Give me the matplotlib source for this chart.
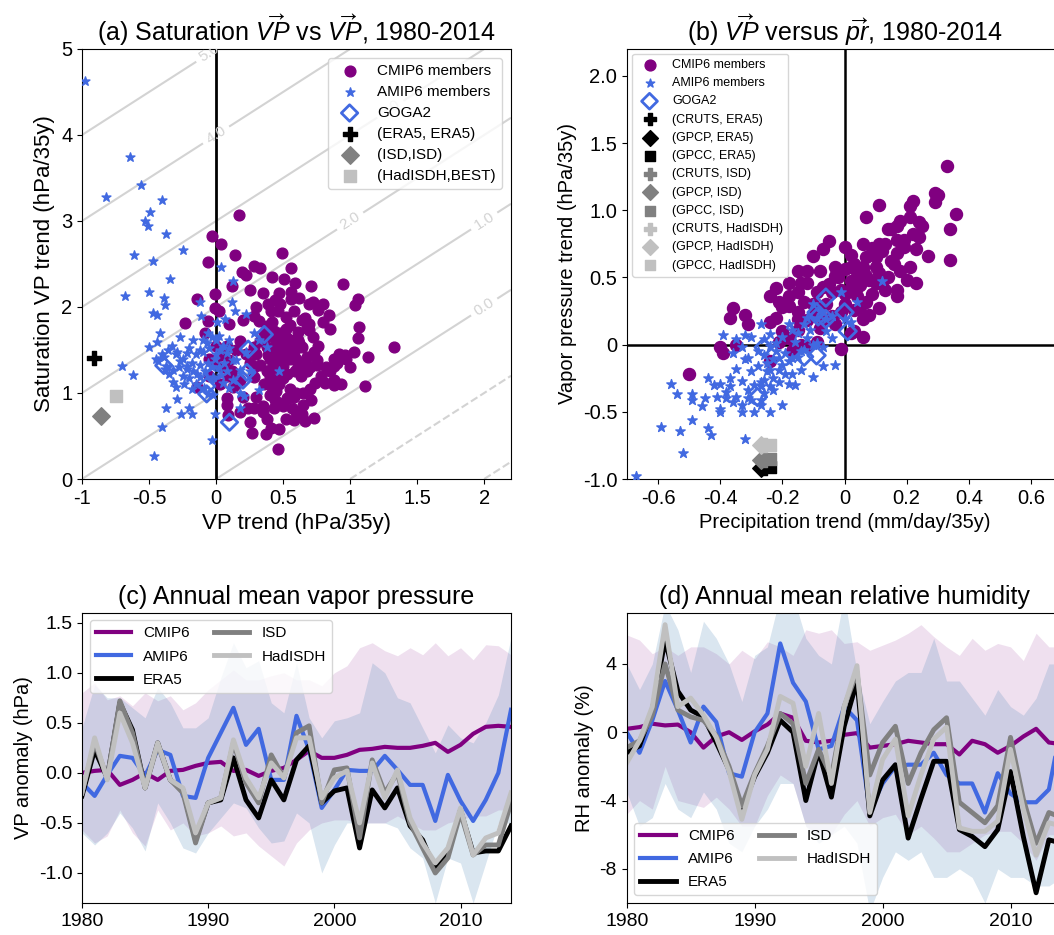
import numpy as np
import matplotlib
matplotlib.use('Agg')
import matplotlib.pyplot as plt

plt.rcParams['font.family'] = ['Liberation Sans', 'DejaVu Sans']
plt.rcParams['axes.unicode_minus'] = False
plt.rcParams['mathtext.fontset'] = 'custom'
plt.rcParams['mathtext.rm'] = 'Liberation Sans'
plt.rcParams['mathtext.it'] = 'Liberation Sans:italic'

# ---------------- panel (a): saturation VP trend vs VP trend ----------------
cmip_a = [
    (0.17, 3.07), (-0.03, 2.83), (0.04, 2.73), (-0.06, 2.52), (0.14, 2.61), (0.49, 2.63),
    (0.28, 2.48), (0.19, 2.41), (0.33, 2.45), (0.22, 2.37), (0.42, 2.35), (0.56, 2.45),
    (0.51, 2.32), (0.59, 2.28), (0.12, 2.24), (0.71, 2.24), (0.95, 2.27), (-0.01, 2.15),
    (0.35, 2.16), (0.47, 2.16), (-0.14, 2.09), (0.56, 2.09), (0.62, 2.10), (1.06, 2.09),
    (0.39, 2.04), (0.48, 2.04), (0.69, 2.04), (0.72, 2.06), (0.80, 2.04), (1.04, 2.02),
    (-0.01, 1.99), (0.41, 1.95), (0.76, 1.96), (0.84, 1.91), (0.28, 1.90), (0.32, 1.84),
    (-0.06, 1.84), (-0.23, 1.81), (0.42, 1.83), (0.66, 1.87), (0.55, 1.79), (0.69, 1.80),
    (0.80, 1.83), (1.07, 1.77), (0.69, 1.73), (0.85, 1.74), (0.61, 1.71), (0.48, 1.70),
    (0.40, 1.66), (0.53, 1.64), (0.61, 1.62), (0.46, 1.58), (0.64, 1.54), (1.06, 1.64),
    (0.18, 1.60), (0.28, 1.54), (0.38, 1.54), (0.49, 1.50), (0.58, 1.48), (0.73, 1.48),
    (1.03, 1.48), (1.33, 1.53), (0.96, 1.44), (1.13, 1.42), (0.39, 1.44), (0.45, 1.38),
    (0.55, 1.40), (0.68, 1.42), (0.75, 1.38), (0.88, 1.40), (0.90, 1.35), (0.03, 1.44),
    (0.10, 1.38), (-0.01, 1.37), (0.33, 1.33), (0.42, 1.29), (0.50, 1.31), (0.61, 1.31),
    (0.75, 1.33), (0.59, 1.25), (0.68, 1.25), (0.40, 1.19), (0.50, 1.17), (0.28, 1.19),
    (0.74, 1.12), (0.81, 1.12), (0.88, 1.15), (1.11, 1.08), (0.88, 1.09), (-0.14, 1.07),
    (0.13, 1.07), (0.42, 1.07), (0.18, 1.15), (0.45, 1.02), (0.60, 1.00), (0.53, 0.94),
    (0.71, 0.92), (0.08, 0.94), (0.08, 0.86), (0.18, 0.78), (0.24, 0.82), (0.28, 0.82),
    (0.35, 0.78), (0.43, 0.82), (0.47, 0.88), (0.57, 0.82), (0.64, 0.76), (0.65, 0.86),
    (0.73, 0.71), (0.66, 0.68), (0.25, 0.66), (0.09, 0.74), (0.27, 0.53), (0.37, 0.52),
    (0.47, 0.58), (0.41, 0.59), (0.46, 0.35), (0.58, 0.69), (0.88, 1.31),
    (0.38, 1.78), (0.43, 1.72), (0.47, 1.68), (0.52, 1.74), (0.45, 1.62), (0.50, 1.58),
    (0.55, 1.55), (0.42, 1.52), (0.47, 1.45), (0.52, 1.42), (0.40, 1.40), (0.44, 1.33),
    (0.48, 1.27), (0.53, 1.22), (0.38, 1.25), (0.43, 1.15), (0.47, 1.10), (0.36, 1.10),
    (0.40, 0.98), (0.44, 0.92), (0.50, 0.85), (0.30, 1.45), (0.33, 1.60), (0.36, 1.70),
    (0.58, 1.62), (0.62, 1.58), (0.60, 1.40), (0.66, 1.35), (0.70, 1.30), (0.63, 1.20),
    (0.55, 1.05), (0.58, 0.95), (0.65, 1.00), (0.70, 1.05), (0.25, 1.35), (0.22, 1.45),
    (0.15, 1.50), (0.08, 1.55), (0.05, 1.30), (0.12, 1.25), (-0.05, 1.40), (0.00, 1.55),
    (0.10, 1.20), (0.15, 1.10), (0.30, 0.95), (0.35, 0.85), (0.38, 0.70), (0.52, 0.70),
    (0.60, 0.78), (0.78, 1.20), (0.82, 1.30), (0.92, 1.45), (0.97, 1.40), (1.00, 1.30),
    (0.93, 1.10), (0.85, 1.25), (0.76, 1.55), (0.72, 1.65), (0.68, 1.75), (0.64, 1.85),
    (0.58, 1.95), (0.52, 1.88), (0.46, 1.95), (0.44, 2.08), (0.56, 2.18), (0.25, 2.20),
    (0.30, 2.00), (0.20, 1.85), (0.10, 1.80), (0.02, 1.95), (-0.08, 1.70), (-0.05, 1.20),
    (0.03, 1.10), (0.20, 0.95), (0.28, 1.30),
]
amip_a = [
    (-0.98, 4.63), (-0.64, 3.74), (-0.56, 3.42), (-0.82, 3.28), (-0.40, 3.24), (-0.49, 3.10),
    (-0.53, 3.00), (-0.51, 2.94), (-0.37, 2.85), (-0.25, 2.66), (-0.61, 2.60), (-0.47, 2.53),
    (0.04, 2.47), (-0.34, 2.33), (0.13, 2.30), (-0.68, 2.13), (-0.50, 2.17), (-0.39, 2.10),
    (-0.38, 2.02), (-0.12, 2.06), (0.12, 2.06), (-0.44, 1.91), (-0.47, 1.93), (-0.11, 1.90),
    (0.14, 1.95), (0.22, 1.92), (0.005, 1.83), (0.07, 1.86), (-0.42, 1.70), (-0.27, 1.65),
    (-0.44, 1.59), (-0.50, 1.53), (-0.36, 1.50), (-0.17, 1.62), (-0.07, 1.58), (-0.03, 1.65),
    (0.02, 1.66), (-0.12, 1.50), (-0.22, 1.46), (-0.29, 1.48), (0.38, 1.53), (0.28, 1.70),
    (0.32, 1.62), (-0.39, 1.42), (-0.43, 1.37), (-0.37, 1.31), (-0.32, 1.27), (-0.27, 1.37),
    (-0.22, 1.31), (-0.17, 1.25), (-0.12, 1.19), (-0.06, 1.35), (-0.01, 1.40), (0.03, 1.50),
    (0.08, 1.46), (0.13, 1.38), (0.18, 1.27), (0.04, 1.21), (-0.02, 1.19), (0.13, 1.15),
    (-0.32, 1.13), (-0.30, 1.07), (-0.15, 1.11), (-0.09, 1.06), (0.10, 1.06), (0.18, 1.00),
    (0.32, 1.03), (-0.02, 0.98), (-0.06, 0.99), (-0.70, 1.31), (-0.62, 1.21), (-0.29, 0.93),
    (-0.37, 0.82), (-0.20, 0.82), (-0.18, 0.75), (-0.26, 0.75), (-0.01, 0.75), (0.21, 0.96),
    (0.18, 0.82), (-0.40, 0.61), (-0.03, 0.45), (-0.46, 0.27), (0.47, 1.26),
    (-0.30, 1.45), (-0.25, 1.40), (-0.20, 1.52), (-0.15, 1.45), (-0.10, 1.48), (-0.05, 1.52),
    (0.00, 1.45), (0.05, 1.55), (-0.28, 1.30), (-0.22, 1.28), (-0.18, 1.35), (-0.12, 1.32),
    (-0.08, 1.25), (-0.03, 1.30), (0.02, 1.30), (0.06, 1.35), (-0.25, 1.20), (-0.20, 1.18),
    (-0.14, 1.22), (-0.35, 1.22), (-0.40, 1.45), (-0.33, 1.55), (-0.10, 1.62), (0.00, 1.62),
    (0.08, 1.25), (0.15, 1.38), (0.10, 1.52), (-0.18, 1.05), (-0.24, 1.10), (0.05, 1.12),
    (-0.45, 1.40), (-0.38, 1.28), (0.22, 1.48), (0.25, 1.25), (-0.06, 1.70), (0.10, 1.62),
]
goga_a = [(-0.39, 1.32), (-0.07, 1.08), (-0.07, 0.99), (0.24, 1.51), (0.36, 1.68),
          (0.23, 1.24), (0.20, 1.15), (0.10, 0.66), (-0.02, 1.22)]
era5_a = (-0.91, 1.41)
isd_a = (-0.86, 0.73)
hadisdh_a = (-0.75, 0.97)
rh_levels = [-2, -1, 0, 1, 2, 3, 4, 5, 6]
rh_label_pos = [(2.0, 2.0), (2.0, 3.0), (1.0, 3.0), (1.3, 4.3), (0.0, 4.0), (-0.05, 4.95)]

# ---------------- panel (b): VP trend vs precipitation trend ----------------
cmip_b = [
    (0.33, 1.33), (0.29, 1.13), (0.30, 1.11), (0.29, 1.06), (0.36, 0.97), (0.34, 0.86),
    (0.34, 0.63), (0.11, 1.04), (0.07, 0.95), (0.22, 1.07), (0.21, 1.03), (0.18, 0.92),
    (0.15, 0.86), (0.14, 0.86), (0.24, 0.91), (0.24, 0.80), (0.27, 0.66), (0.17, 0.78),
    (0.19, 0.73), (0.17, 0.68), (0.11, 0.75), (0.13, 0.75), (0.06, 0.75), (0.09, 0.72),
    (0.00, 0.73), (-0.05, 0.77), (-0.07, 0.71), (-0.10, 0.66), (0.23, 0.71), (0.21, 0.58),
    (0.23, 0.46), (0.11, 0.53), (0.06, 0.58), (0.00, 0.56), (0.02, 0.58), (0.04, 0.51),
    (0.07, 0.51), (0.10, 0.46), (0.13, 0.41), (0.17, 0.41), (0.17, 0.36), (-0.03, 0.51),
    (-0.07, 0.43), (-0.09, 0.39), (-0.12, 0.46), (-0.14, 0.46), (-0.18, 0.46), (-0.15, 0.39),
    (-0.18, 0.36), (-0.22, 0.42), (-0.24, 0.36), (-0.21, 0.32), (-0.18, 0.29), (-0.04, 0.39),
    (-0.01, 0.41), (0.02, 0.41), (0.04, 0.43), (0.07, 0.32), (0.11, 0.27), (0.03, 0.26),
    (0.06, 0.19), (0.03, 0.10), (-0.01, 0.24), (-0.04, 0.21), (-0.07, 0.19), (-0.10, 0.22),
    (-0.15, 0.24), (-0.15, 0.19), (-0.20, 0.10), (-0.24, 0.17), (-0.31, 0.15), (-0.32, 0.22),
    (-0.37, 0.20), (-0.36, 0.27), (-0.35, 0.00), (-0.40, -0.02), (-0.39, -0.06), (-0.50, -0.22),
    (-0.01, -0.03), (-0.09, 0.02), (-0.12, -0.01), (-0.16, -0.01), (-0.24, -0.12), (-0.15, 0.11),
    (0.02, 0.09), (0.06, 0.06),
    (-0.02, 0.50), (0.02, 0.47), (0.05, 0.44), (0.08, 0.48), (-0.05, 0.45), (0.00, 0.38),
    (0.04, 0.36), (0.09, 0.38), (0.12, 0.45), (0.14, 0.50), (0.06, 0.55), (0.03, 0.60),
    (-0.03, 0.58), (0.10, 0.58), (0.15, 0.62), (0.18, 0.55), (0.20, 0.48), (0.07, 0.65),
    (0.12, 0.70), (0.02, 0.67), (-0.08, 0.55), (-0.12, 0.55), (-0.15, 0.55), (-0.10, 0.30),
    (-0.13, 0.32), (-0.06, 0.30), (0.05, 0.28), (0.08, 0.22), (-0.03, 0.15), (-0.08, 0.12),
    (-0.12, 0.18), (-0.20, 0.28), (-0.22, 0.20), (0.00, 0.30), (0.16, 0.60), (0.19, 0.78),
    (0.22, 0.82), (0.25, 0.88), (0.21, 0.95), (0.17, 0.88), (0.10, 0.65), (-0.18, 0.05),
    (-0.14, 0.00), (-0.21, 0.02), (-0.17, -0.05),
]
amip_b = [
    (-0.67, -0.98), (-0.59, -0.61), (-0.53, -0.64), (-0.52, -0.81), (-0.49, -0.56), (-0.43, -0.67),
    (-0.44, -0.62), (-0.32, -0.70), (-0.56, -0.29), (-0.54, -0.37), (-0.49, -0.41), (-0.49, -0.37),
    (-0.46, -0.46), (-0.45, -0.40), (-0.44, -0.25), (-0.41, -0.39), (-0.40, -0.50), (-0.40, -0.29),
    (-0.40, -0.48), (-0.37, -0.25), (-0.38, -0.40), (-0.36, -0.43), (-0.35, -0.39), (-0.33, -0.27),
    (-0.33, -0.45), (-0.33, -0.50), (-0.37, -0.31), (-0.31, -0.34), (-0.30, -0.41), (-0.29, -0.50),
    (-0.27, -0.41), (-0.27, -0.31), (-0.26, -0.26), (-0.24, -0.50), (-0.20, -0.45), (-0.23, -0.34),
    (-0.18, -0.29), (-0.16, -0.30), (-0.10, -0.24), (-0.07, -0.16), (-0.03, -0.15), (-0.14, -0.19),
    (-0.17, -0.22), (-0.21, -0.19), (-0.24, -0.19), (-0.25, -0.14), (-0.28, -0.16), (-0.31, -0.10),
    (-0.32, -0.11), (-0.36, -0.06), (-0.39, 0.07), (-0.35, 0.04), (-0.32, 0.07), (-0.30, 0.06),
    (-0.27, 0.15), (-0.26, 0.04), (-0.24, -0.01), (-0.22, 0.01), (-0.20, 0.06), (-0.17, 0.11),
    (-0.15, 0.09), (-0.13, 0.15), (-0.11, 0.11), (-0.10, 0.30), (-0.09, 0.01), (-0.07, -0.02),
    (-0.19, -0.06), (-0.21, -0.10), (-0.23, -0.11), (-0.17, -0.10), (-0.15, -0.09), (-0.13, -0.04),
    (-0.01, 0.39), (0.04, 0.32), (0.12, 0.47), (-0.09, 0.20), (-0.06, 0.19), (-0.04, 0.21),
    (0.00, 0.19), (0.02, 0.17), (-0.26, -0.36), (-0.24, -0.31),
    (-0.22, -0.05), (-0.20, -0.15), (-0.18, -0.12), (-0.16, 0.02), (-0.14, -0.05), (-0.12, 0.05),
    (-0.10, 0.00), (-0.23, -0.25), (-0.25, -0.20), (-0.27, -0.28), (-0.21, -0.28), (-0.19, -0.22),
    (-0.26, -0.08), (-0.28, -0.05), (-0.30, -0.20), (-0.29, -0.30), (-0.24, 0.08), (-0.18, 0.15),
    (-0.12, 0.20), (-0.08, 0.25), (-0.06, 0.10), (-0.04, 0.05), (-0.33, -0.02), (-0.35, -0.18),
    (-0.38, -0.35), (-0.42, -0.30), (-0.31, -0.40), (-0.27, -0.45),
]
goga_b = [(-0.06, 0.35), (-0.09, 0.24), (-0.06, 0.19), (0.00, 0.24), (0.01, 0.10),
          (-0.26, -0.02), (-0.13, -0.09), (-0.09, -0.08), (-0.28, -0.39), (-0.085, 0.21)]
# observational pairs: (precip dataset, VP dataset)
obs_b = {
    '(CRUTS, ERA5)': (-0.255, -0.92), '(GPCP, ERA5)': (-0.27, -0.92), '(GPCC, ERA5)': (-0.24, -0.91),
    '(CRUTS, ISD)': (-0.255, -0.86), '(GPCP, ISD)': (-0.27, -0.86), '(GPCC, ISD)': (-0.24, -0.85),
    '(CRUTS, HadISDH)': (-0.255, -0.75), '(GPCP, HadISDH)': (-0.27, -0.75), '(GPCC, HadISDH)': (-0.24, -0.75),
}

# ---------------- panel (c): annual mean vapor pressure anomaly ----------------
years = np.arange(1980, 2015)
vp_cmip6 = [0.00, 0.02, 0.03, -0.12, -0.07, 0.00, -0.07, 0.02, 0.03, 0.07, 0.10, 0.11,
            0.02, 0.03, -0.03, 0.02, 0.05, 0.13, 0.22, 0.15, 0.15, 0.18, 0.23, 0.24,
            0.26, 0.25, 0.25, 0.27, 0.30, 0.21, 0.28, 0.39, 0.46, 0.47, 0.46]
vp_amip6 = [-0.10, -0.23, -0.02, 0.17, 0.15, -0.03, 0.23, 0.18, -0.23, -0.25, 0.15, 0.40,
            0.65, 0.28, 0.44, -0.07, -0.07, 0.57, 0.23, -0.35, -0.17, 0.03, 0.02, 0.02,
            0.17, 0.03, -0.12, -0.12, -0.48, -0.02, -0.28, -0.48, -0.27, 0.00, 0.63]
vp_era5 = [-0.23, 0.23, -0.05, 0.70, 0.43, -0.15, 0.30, -0.07, -0.17, -0.67, -0.30, -0.27,
           0.15, -0.27, -0.45, -0.07, -0.27, 0.13, 0.27, -0.30, -0.18, -0.15, -0.75, -0.17,
           -0.35, -0.15, -0.53, -0.67, -0.97, -0.80, -0.37, -0.80, -0.78, -0.78, -0.53]
vp_isd = [-0.20, 0.30, -0.05, 0.72, 0.40, -0.15, 0.28, -0.07, -0.20, -0.70, -0.30, -0.25,
          0.30, -0.10, -0.30, 0.18, -0.05, 0.40, 0.47, -0.30, 0.03, 0.05, -0.65, 0.13,
          -0.20, 0.00, -0.50, -0.75, -1.00, -0.85, -0.40, -0.82, -0.72, -0.72, -0.30]
vp_hadisdh = [-0.20, 0.35, -0.07, 0.60, 0.30, -0.15, 0.30, -0.07, -0.15, -0.60, -0.30, -0.25,
              0.33, -0.05, -0.25, 0.10, -0.05, 0.35, 0.35, -0.25, -0.05, 0.02, -0.50, 0.10,
              -0.25, 0.03, -0.45, -0.70, -0.90, -0.75, -0.35, -0.82, -0.65, -0.60, -0.20]
vp_cmip6_hi = [0.80, 0.90, 0.73, 0.77, 0.67, 0.80, 0.72, 0.77, 0.63, 0.70, 0.83, 0.93,
               1.03, 0.93, 0.93, 0.97, 1.00, 0.93, 0.93, 0.87, 1.00, 1.07, 1.25, 1.30,
               1.22, 1.17, 1.25, 1.18, 1.30, 1.17, 1.25, 1.13, 1.28, 1.27, 1.18]
vp_cmip6_lo = [-0.57, -0.70, -0.63, -0.37, -0.60, -0.73, -0.37, -0.57, -0.50, -0.63, -0.60, -0.53,
               -0.63, -0.60, -0.73, -0.83, -0.93, -0.70, -0.57, -0.50, -0.47, -0.47, -0.50, -0.50,
               -0.50, -0.43, -0.50, -0.57, -0.57, -0.50, -0.47, -0.43, -0.43, -0.37, -0.37]
vp_amip6_hi = [0.45, 0.88, 0.75, 0.75, 0.65, 0.55, 0.85, 0.70, 0.45, 0.45, 0.55, 0.95,
               1.30, 1.05, 1.12, 0.70, 0.60, 1.10, 0.55, 0.35, 0.52, 0.55, 0.60, 1.10,
               1.00, 0.75, 0.70, 0.45, 0.20, 0.48, 0.35, 0.30, 0.50, 0.78, 1.35]
vp_amip6_lo = [-0.60, -0.72, -0.60, -0.40, -0.55, -0.78, -0.30, -0.50, -0.75, -0.80, -0.60, -0.45,
               -0.30, -0.35, -0.55, -0.70, -0.68, -0.40, -0.50, -1.00, -0.72, -0.50, -0.50, -0.50,
               -0.50, -0.55, -0.75, -0.85, -1.30, -0.85, -0.90, -1.30, -0.90, -0.50, -0.50]

# ---------------- panel (d): annual mean relative humidity anomaly ----------------
rh_cmip6 = [0.2, 0.3, 0.5, 0.4, 0.45, 0.0, -0.9, -0.25, 0.0, -0.45, 0.05, 0.45,
            1.1, 0.85, -0.5, -0.6, -0.5, -0.15, -0.05, -0.9, -0.8, -0.7, -0.5, -0.6,
            -0.7, -0.7, -1.3, -0.5, -0.7, -1.2, -0.8, -0.25, 0.2, -0.6, -0.7]
rh_amip6 = [0.0, -1.2, 0.7, 3.0, 1.3, -0.6, 1.5, 0.6, -2.4, -2.6, 0.0, 1.1,
            5.2, 2.9, 1.8, -1.0, -0.8, 1.5, 0.7, -4.6, -3.0, -2.0, -1.9, -1.9,
            -1.2, -2.5, -3.0, -3.0, -4.7, -2.4, -3.6, -4.1, -4.1, -3.35, 0.5]
rh_era5 = [-1.2, -0.8, 1.3, 5.4, 2.4, 1.3, 0.9, -0.6, -2.2, -4.5, -2.6, -1.2,
           0.7, 0.0, -4.0, -1.1, -3.8, 0.35, 3.0, -4.9, -2.8, -1.9, -6.2, -3.9,
           -1.7, -1.7, -5.7, -6.1, -6.7, -5.7, -2.3, -6.1, -9.4, -6.3, -6.5]
rh_isd = [-0.9, -0.5, 1.0, 4.0, 1.3, 0.9, 0.7, -0.2, -2.0, -4.3, -2.4, -0.8,
          1.1, 0.5, -3.0, -1.0, -2.6, 1.5, 3.5, -2.5, -0.6, 0.35, -3.0, -1.2,
          0.15, 0.85, -4.1, -4.7, -5.3, -4.3, -0.3, -3.9, -6.5, -4.7, -5.0]
rh_hadisdh = [-1.8, -0.5, 1.5, 6.3, 1.5, 2.0, 1.0, -0.3, -2.3, -5.1, -2.5, -1.0,
              2.1, 1.7, -2.0, 1.1, -3.0, 1.5, 3.9, -4.7, -1.6, -0.4, -4.9, -2.5,
              -0.4, 0.3, -5.6, -5.8, -5.8, -5.2, -1.0, -4.5, -7.2, -5.3, -5.5]
rh_cmip6_hi = [5.7, 5.4, 4.6, 5.0, 4.5, 5.0, 5.0, 4.6, 4.0, 4.8, 4.3, 5.3,
               5.0, 4.5, 6.0, 5.8, 6.0, 5.2, 5.3, 4.8, 5.1, 5.4, 5.8, 6.3,
               5.6, 5.0, 4.5, 5.5, 4.8, 5.2, 5.0, 4.2, 5.8, 5.0, 5.0]
rh_cmip6_lo = [-4.8, -4.0, -4.5, -2.0, -4.0, -4.2, -4.4, -3.8, -4.5, -5.5, -5.5, -3.7,
               -2.5, -3.0, -5.5, -6.0, -6.0, -4.8, -4.0, -5.5, -5.0, -4.8, -6.0, -5.5,
               -6.2, -7.0, -7.0, -6.5, -6.0, -5.8, -5.8, -6.5, -7.5, -6.0, -6.0]
rh_amip6_hi = [4.0, 2.5, 4.0, 7.5, 6.0, 3.5, 6.5, 5.5, 4.0, 1.8, 4.5, 5.0,
               8.0, 8.0, 5.5, 4.5, 4.0, 8.0, 3.5, 0.5, 1.8, 3.0, 3.5, 3.5,
               5.5, 3.0, 3.0, 2.0, 1.0, 2.5, 1.5, 1.0, 2.0, 4.0, 4.0]
rh_amip6_lo = [-3.5, -5.5, -5.0, -3.0, -4.5, -5.0, -3.5, -4.5, -6.5, -7.0, -5.5, -4.5,
               -3.0, -3.0, -5.5, -6.5, -6.0, -5.5, -6.5, -10.5, -8.5, -7.0, -7.5, -7.0,
               -8.5, -8.5, -8.0, -8.5, -10.0, -8.0, -8.5, -8.5, -9.0, -9.0, -8.5]

# ---------------- styling ----------------
c_cmip = 'purple'
c_amip = 'royalblue'
c_era5 = 'black'
c_isd = 'gray'
c_had = 'silver'

fig = plt.figure(figsize=(10.54, 9.35), dpi=100)
ax_a = fig.add_axes([0.0778, 0.4877, 0.407, 0.4599])
ax_b = fig.add_axes([0.5949, 0.4877, 0.4127, 0.4599])
ax_c = fig.add_axes([0.0778, 0.0342, 0.407, 0.3105])
ax_d = fig.add_axes([0.5946, 0.0342, 0.4127, 0.3105])

# ---- (a) ----
gx, gy = np.meshgrid(np.linspace(-1, 2.2, 200), np.linspace(0, 5, 200))
cs = ax_a.contour(gx, gy, gy - gx, levels=rh_levels, colors='lightgray', linewidths=1.5, zorder=1)
ax_a.clabel(cs, fmt='%.1f', manual=rh_label_pos, fontsize=11, inline=True)
ax_a.axvline(0, color='k', lw=2, zorder=2)
xa, ya = zip(*cmip_a)
ax_a.scatter(xa, ya, s=60, color=c_cmip, zorder=3, label='CMIP6 members')
xa, ya = zip(*amip_a)
ax_a.scatter(xa, ya, s=45, marker='*', color=c_amip, zorder=4, label='AMIP6 members')
xa, ya = zip(*goga_a)
ax_a.scatter(xa, ya, s=70, marker='D', facecolor='none', edgecolor=c_amip, lw=2, zorder=5, label='GOGA2')
ax_a.scatter(*era5_a, s=90, marker='P', color=c_era5, zorder=5, label='(ERA5, ERA5)')
ax_a.scatter(*isd_a, s=80, marker='D', color=c_isd, zorder=5, label='(ISD,ISD)')
ax_a.scatter(*hadisdh_a, s=80, marker='s', color=c_had, zorder=5, label='(HadISDH,BEST)')
ax_a.set_xlim(-1, 2.2)
ax_a.set_ylim(0, 5)
ax_a.set_xticks([-1, -0.5, 0, 0.5, 1, 1.5, 2])
ax_a.set_xticklabels(['-1', '-0.5', '0', '0.5', '1', '1.5', '2'])
ax_a.set_yticks([0, 1, 2, 3, 4, 5])
ax_a.tick_params(labelsize=14.5)
ax_a.set_xlabel('VP trend (hPa/35y)', fontsize=16)
ax_a.set_ylabel('Saturation VP trend (hPa/35y)', fontsize=16)
ax_a.set_title(r'(a) Saturation $\overrightarrow{VP}$ vs $\overrightarrow{VP}$, 1980-2014', fontsize=18)
ax_a.legend(loc='upper right', fontsize=11, borderaxespad=0.6, labelspacing=0.45)

# ---- (b) ----
ax_b.axvline(0, color='k', lw=1.8, zorder=2)
ax_b.axhline(0, color='k', lw=1.8, zorder=2)
xb, yb = zip(*cmip_b)
ax_b.scatter(xb, yb, s=75, color=c_cmip, zorder=3, label='CMIP6 members')
xb, yb = zip(*amip_b)
ax_b.scatter(xb, yb, s=50, marker='*', color=c_amip, zorder=4, label='AMIP6 members')
xb, yb = zip(*goga_b)
ax_b.scatter(xb, yb, s=80, marker='D', facecolor='none', edgecolor=c_amip, lw=2, zorder=5, label='GOGA2')
obs_style = {'CRUTS': ('P', 90), 'GPCP': ('D', 80), 'GPCC': ('s', 75)}
obs_color = {'ERA5': c_era5, 'ISD': c_isd, 'HadISDH': c_had}
for lab, (px, py) in obs_b.items():
    pr_name, vp_name = lab.strip('()').split(', ')
    mk, sz = obs_style[pr_name]
    ax_b.scatter(px, py, s=sz, marker=mk, color=obs_color[vp_name], zorder=5, label=lab)
ax_b.set_xlim(-0.7, 0.7)
ax_b.set_ylim(-1.0, 2.2)
ax_b.set_xticks([-0.6, -0.4, -0.2, 0, 0.2, 0.4, 0.6])
ax_b.set_xticklabels(['-0.6', '-0.4', '-0.2', '0', '0.2', '0.4', '0.6'])
ax_b.set_yticks([-1.0, -0.5, 0, 0.5, 1.0, 1.5, 2.0])
ax_b.set_yticklabels(['-1.0', '-0.5', '0', '0.5', '1.0', '1.5', '2.0'])
ax_b.tick_params(labelsize=14.5)
ax_b.set_xlabel('Precipitation trend (mm/day/35y)', fontsize=14.5)
ax_b.set_ylabel('Vapor pressure trend (hPa/35y)', fontsize=14.5)
ax_b.set_title(r'(b) $\overrightarrow{VP}$ versus $\overrightarrow{pr}$, 1980-2014', fontsize=18)
ax_b.legend(loc='upper left', fontsize=9, borderaxespad=0.4, labelspacing=0.5, markerscale=0.9)


def draw_series(ax, cm, am, er, isd, had, cm_lo, cm_hi, am_lo, am_hi):
    ax.fill_between(years, cm_lo, cm_hi, color=c_cmip, alpha=0.12, lw=0)
    ax.fill_between(years, am_lo, am_hi, color='steelblue', alpha=0.2, lw=0)
    ax.plot(years, cm, color=c_cmip, lw=3, label='CMIP6')
    ax.plot(years, am, color=c_amip, lw=3, label='AMIP6')
    ax.plot(years, er, color=c_era5, lw=3.5, label='ERA5')
    ax.plot(years, isd, color=c_isd, lw=3.5, label='ISD')
    ax.plot(years, had, color=c_had, lw=3.5, label='HadISDH')
    ax.set_xlim(1980, 2014)
    ax.set_xticks([1980, 1990, 2000, 2010])
    ax.tick_params(labelsize=14)


# ---- (c) ----
draw_series(ax_c, vp_cmip6, vp_amip6, vp_era5, vp_isd, vp_hadisdh,
            vp_cmip6_lo, vp_cmip6_hi, vp_amip6_lo, vp_amip6_hi)
ax_c.set_ylim(-1.3, 1.6)
ax_c.set_yticks([-1.0, -0.5, 0.0, 0.5, 1.0, 1.5])
ax_c.set_ylabel('VP anomaly (hPa)', fontsize=14.5)
ax_c.set_title('(c) Annual mean vapor pressure', fontsize=18)
ax_c.legend(loc='upper left', ncol=2, fontsize=11, handlelength=2.3, columnspacing=1.6,
            labelspacing=0.6)

# ---- (d) ----
draw_series(ax_d, rh_cmip6, rh_amip6, rh_era5, rh_isd, rh_hadisdh,
            rh_cmip6_lo, rh_cmip6_hi, rh_amip6_lo, rh_amip6_hi)
ax_d.set_ylim(-10, 7)
ax_d.set_yticks([-8, -4, 0, 4])
ax_d.set_ylabel('RH anomaly (%)', fontsize=14.5)
ax_d.set_title('(d) Annual mean relative humidity', fontsize=18)
ax_d.legend(loc='lower left', ncol=2, fontsize=11, handlelength=2.3, columnspacing=1.6,
            labelspacing=0.6)

fig.savefig('out.png', dpi=100)
